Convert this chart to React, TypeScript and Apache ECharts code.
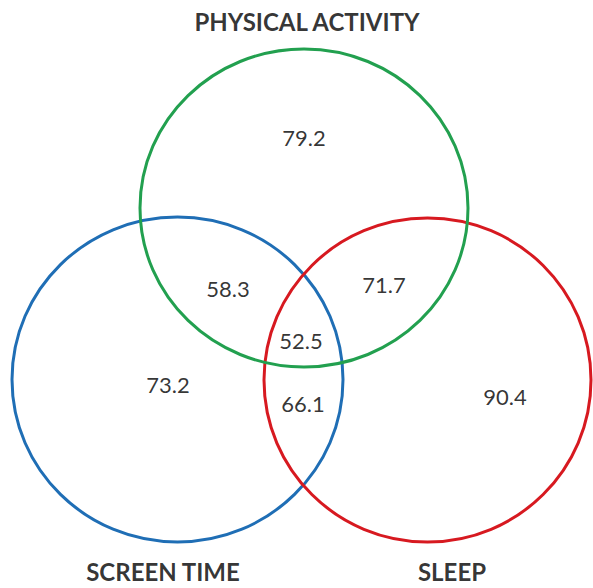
import React, { useEffect, useRef } from "react";
import * as echarts from "echarts";

// ---- data ----
const setNames = ["SCREEN TIME", "SLEEP", "PHYSICAL ACTIVITY"];
const regionNames = [
  "Physical activity only",
  "Screen time & Physical activity",
  "Physical activity & Sleep",
  "All three",
  "Screen time only",
  "Screen time & Sleep",
  "Sleep only",
];
const regionValues = [79.2, 58.3, 71.7, 52.5, 73.2, 66.1, 90.4];

// ---- layout (pixel space of the 593x588 canvas) ----
const W = 593;
const H = 588;
const circleGeom: number[][] = [
  [177.5, 379.5, 165.5, 162.5], // screen time
  [427.5, 380, 163.5, 162], // sleep
  [304, 208, 164, 159], // physical activity
];
const circleColors = ["#1f6eb5", "#d71920", "#22a04f"];
const regionPos: number[][] = [
  [304, 137],
  [228, 288],
  [384, 284],
  [301, 340],
  [168, 384],
  [303, 403],
  [505, 396],
];
const namePos: number[][] = [
  [163, 571],
  [452, 571],
  [307, 21],
];

export default function App() {
  const ref = useRef<HTMLDivElement>(null);
  useEffect(() => {
    if (!ref.current) return;
    const chart = echarts.init(ref.current, undefined, { renderer: "svg" });
    const font = "Lato, 'Open Sans', sans-serif";
    chart.setOption({
      animation: false,
      backgroundColor: "#ffffff",
      grid: { left: 0, right: 0, top: 0, bottom: 0, containLabel: false },
      xAxis: { type: "value", min: 0, max: W, show: false },
      yAxis: { type: "value", min: 0, max: H, inverse: true, show: false },
      series: [
        {
          type: "custom",
          name: "sets",
          data: circleGeom.map((g, i) => ({ value: g, name: setNames[i] })),
          silent: true,
          renderItem: (params: any, api: any) => {
            const c = api.coord([api.value(0), api.value(1)]);
            const s = api.size([api.value(2), api.value(3)]);
            return {
              type: "ellipse",
              shape: { cx: c[0], cy: c[1], rx: s[0], ry: s[1] },
              style: {
                fill: "none",
                stroke: circleColors[params.dataIndex],
                lineWidth: 3,
              },
            };
          },
        },
        {
          type: "scatter",
          name: "values",
          symbolSize: 0,
          silent: true,
          data: regionValues.map((v, i) => ({
            name: regionNames[i],
            value: [regionPos[i][0], regionPos[i][1], v],
          })),
          label: {
            show: true,
            position: "inside",
            formatter: (p: any) => p.value[2].toFixed(1),
            fontFamily: font,
            fontSize: 22,
            color: "#000000",
          },
        },
        {
          type: "scatter",
          name: "names",
          symbolSize: 0,
          silent: true,
          data: setNames.map((n, i) => ({
            name: n,
            value: [namePos[i][0], namePos[i][1]],
          })),
          label: {
            show: true,
            position: "inside",
            formatter: (p: any) => p.name,
            fontFamily: font,
            fontSize: 24,
            fontWeight: "bold",
            color: "#000000",
          },
        },
      ],
    });
    return () => chart.dispose();
  }, []);
  return (
    <div
      ref={ref}
      style={{ position: "fixed", left: 0, top: 0, width: W, height: H }}
    />
  );
}
